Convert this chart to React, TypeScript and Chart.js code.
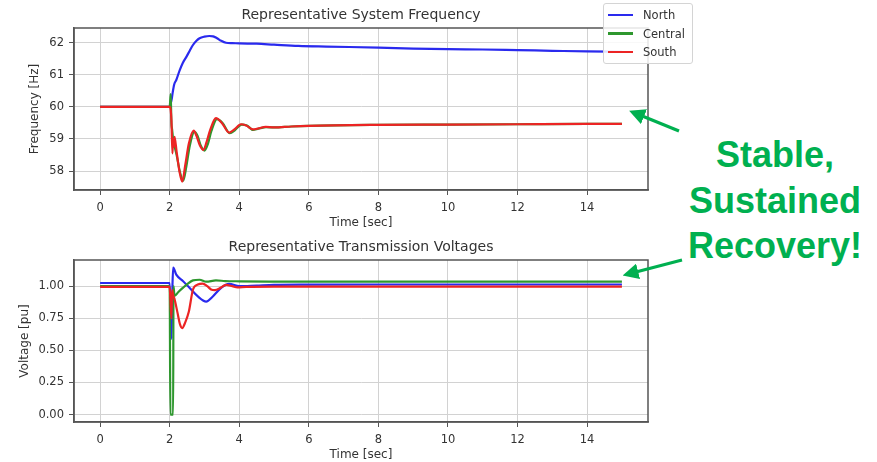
import React, { useEffect, useRef } from 'react';
import { Chart, registerables } from 'chart.js';

Chart.register(...registerables);

// ---------- tick labels ----------
const timeTicks = [0, 2, 4, 6, 8, 10, 12, 14];
const freqTicks = [58, 59, 60, 61, 62];
const voltTicks = [0, 0.25, 0.5, 0.75, 1.0];

// ---------- series names / colours ----------
const seriesNames = ['North', 'Central', 'South'];
const seriesColors = ['#2a2aee', '#2e972e', '#ec2424'];

// ---------- frequency [Hz] ----------
const northFreqT = [0, 2.0, 2.03, 2.06, 2.09, 2.13, 2.19, 2.29, 2.38, 2.48, 2.58, 2.67, 2.77, 2.86, 3.0, 3.14, 3.25, 3.35, 3.48, 3.62, 3.8, 4.0, 4.5, 5.0, 5.7, 6.5, 8.0, 9.0, 10.0, 11.0, 12.0, 13.0, 14.0, 15.0];
const northFreqV = [60, 60, 60.1, 60.25, 60.47, 60.7, 60.84, 61.15, 61.38, 61.56, 61.76, 61.93, 62.06, 62.14, 62.19, 62.21, 62.2, 62.15, 62.06, 62.0, 61.99, 61.98, 61.97, 61.94, 61.9, 61.88, 61.85, 61.82, 61.8, 61.79, 61.77, 61.75, 61.73, 61.72];

const centralFreqT = [0, 2.0, 2.03, 2.05, 2.07, 2.1, 2.2, 2.3, 2.39, 2.48, 2.58, 2.71, 2.8, 2.9, 3.0, 3.1, 3.2, 3.36, 3.52, 3.73, 3.88, 4.07, 4.22, 4.4, 4.55, 4.78, 5.0, 5.5, 6, 8, 10, 12, 14, 15];
const centralFreqV = [60, 60, 60.4, 59.5, 59.3, 59.0, 58.5, 57.95, 57.7, 58.15, 58.8, 59.22, 59.1, 58.78, 58.64, 58.85, 59.25, 59.62, 59.5, 59.18, 59.28, 59.45, 59.42, 59.28, 59.32, 59.37, 59.36, 59.39, 59.41, 59.44, 59.45, 59.46, 59.47, 59.47];

const southFreqT = [0, 2.0, 2.03, 2.05, 2.08, 2.1, 2.12, 2.14, 2.2, 2.28, 2.36, 2.45, 2.55, 2.69, 2.77, 2.87, 2.97, 3.06, 3.17, 3.33, 3.5, 3.71, 3.86, 4.05, 4.2, 4.4, 4.55, 4.76, 5.0, 5.5, 6, 8, 10, 12, 14, 15];
const southFreqV = [60, 60, 59.9, 59.6, 58.55, 59.0, 58.75, 59.07, 58.6, 58.0, 57.67, 58.2, 58.85, 59.26, 59.1, 58.8, 58.66, 58.9, 59.3, 59.65, 59.5, 59.2, 59.3, 59.46, 59.42, 59.3, 59.33, 59.38, 59.36, 59.39, 59.41, 59.44, 59.45, 59.46, 59.47, 59.47];

// ---------- voltage [pu] ----------
const northVoltT = [0, 2.0, 2.03, 2.05, 2.08, 2.1, 2.19, 2.38, 2.57, 2.81, 3.05, 3.24, 3.48, 3.71, 4.0, 4.5, 5, 6, 8, 10, 12, 14, 15];
const northVoltV = [1.025, 1.025, 0.8, 0.59, 1.0, 1.144, 1.09, 1.04, 0.987, 0.92, 0.88, 0.92, 0.987, 1.018, 1.0, 1.005, 1.01, 1.012, 1.013, 1.013, 1.013, 1.013, 1.013];

const centralVoltT = [0, 2.0, 2.02, 2.1, 2.11, 2.14, 2.25, 2.38, 2.5, 2.67, 2.86, 3.05, 3.33, 3.6, 4, 5, 6, 8, 10, 12, 14, 15];
const centralVoltV = [1.0, 1.0, 0.0, 0.0, 1.0, 0.925, 0.955, 0.987, 1.015, 1.045, 1.05, 1.035, 1.045, 1.04, 1.038, 1.036, 1.035, 1.035, 1.035, 1.035, 1.035, 1.035];

const southVoltT = [0, 2.0, 2.02, 2.05, 2.07, 2.1, 2.14, 2.22, 2.3, 2.36, 2.45, 2.55, 2.67, 2.81, 2.95, 3.08, 3.19, 3.3, 3.45, 3.62, 3.8, 3.95, 4.2, 5, 6, 8, 10, 12, 14, 15];
const southVoltV = [0.995, 0.995, 0.9, 0.75, 0.97, 0.93, 0.9, 0.8, 0.7, 0.674, 0.72, 0.8, 0.974, 1.013, 1.02, 1.0, 0.975, 0.97, 0.985, 1.01, 1.0, 0.99, 0.995, 0.997, 0.997, 0.997, 0.997, 0.997, 0.997, 0.997];

const FONT = "'DejaVu Sans', sans-serif";

const pts = (t: number[], v: number[]) => t.map((x, i) => ({ x, y: v[i] }));

const framePlugin = {
  id: 'frame',
  afterDatasetsDraw(chart: any) {
    const { ctx, chartArea } = chart;
    const { left, top, right, bottom } = chartArea;
    ctx.save();
    ctx.strokeStyle = '#555';
    ctx.lineWidth = 1.5;
    ctx.strokeRect(left, top, right - left, bottom - top);
    const t = chart.options.plugins.axTitle?.text;
    if (t) {
      ctx.fillStyle = '#333';
      ctx.font = `14px ${FONT}`;
      ctx.textAlign = 'center';
      ctx.textBaseline = 'middle';
      ctx.fillText(t, (left + right) / 2, 15);
    }
    ctx.restore();
  },
};

type PanelProps = {
  title: string;
  yTitle: string;
  yMin: number;
  yMax: number;
  yTicks: number[];
  yFmt: (v: number) => string;
  yTitlePad: number;
  series: { t: number[]; v: number[] }[];
};

function Panel(p: PanelProps) {
  const ref = useRef<HTMLCanvasElement | null>(null);
  useEffect(() => {
    if (!ref.current) return;
    const datasets = p.series.map((s, i) => ({
      label: seriesNames[i],
      data: pts(s.t, s.v),
      borderColor: seriesColors[i],
      backgroundColor: seriesColors[i],
      borderWidth: 2.2,
      pointRadius: 0,
      fill: false,
      cubicInterpolationMode: 'monotone' as const,
      order: 3 - i,
    }));
    const chart = new Chart(ref.current, {
      type: 'line',
      data: { datasets },
      plugins: [framePlugin],
      options: {
        responsive: false,
        animation: false,
        devicePixelRatio: 1,
        layout: { padding: { left: 0, right: 12, top: 28, bottom: 0 } },
        plugins: {
          legend: { display: false },
          tooltip: { enabled: false },
          title: { display: false },
          axTitle: { text: p.title },
        } as any,
        scales: {
          x: {
            type: 'linear',
            min: -0.75,
            max: 15.75,
            afterBuildTicks: (s: any) => {
              s.ticks = timeTicks.map((v) => ({ value: v }));
            },
            afterFit: (s: any) => {
              s.height = 40;
            },
            ticks: {
              color: '#333',
              font: { family: FONT, size: 11.5 },
              padding: 6,
              maxRotation: 0,
              autoSkip: false,
              callback: (v: any) => String(v),
            },
            grid: { color: '#d2d2d2', lineWidth: 1, tickColor: '#555', tickLength: 5 },
            border: { color: '#555', width: 1.5 },
            title: {
              display: true,
              text: 'Time [sec]',
              color: '#333',
              font: { family: FONT, size: 12 },
              padding: { top: 0, bottom: 0 },
            },
          },
          y: {
            type: 'linear',
            min: p.yMin,
            max: p.yMax,
            afterBuildTicks: (s: any) => {
              s.ticks = p.yTicks.map((v) => ({ value: v }));
            },
            afterFit: (s: any) => {
              s.width = 74;
            },
            ticks: {
              color: '#333',
              font: { family: FONT, size: 11.5 },
              padding: 5,
              autoSkip: false,
              callback: (v: any) => p.yFmt(Number(v)),
            },
            grid: { color: '#d2d2d2', lineWidth: 1, tickColor: '#555', tickLength: 5 },
            border: { color: '#555', width: 1.5 },
            title: {
              display: true,
              text: p.yTitle,
              color: '#333',
              font: { family: FONT, size: 12 },
              padding: { top: p.yTitlePad, bottom: 0 },
            },
          },
        },
      } as any,
    });
    return () => chart.destroy();
  }, []);
  return <canvas ref={ref} width={660} height={230} style={{ display: 'block', width: 660, height: 230 }} />;
}

function Legend() {
  return (
    <div
      style={{
        position: 'absolute',
        left: 603,
        top: 3,
        width: 88,
        height: 59,
        border: '1px solid #d4d4d4',
        borderRadius: 3,
        background: 'rgba(255,255,255,0.85)',
        fontFamily: FONT,
        fontSize: 11.5,
        color: '#333',
      }}
    >
      {seriesNames.map((n, i) => (
        <div key={n} style={{ position: 'absolute', left: 4, top: 2 + i * 18.5, height: 18, display: 'flex', alignItems: 'center' }}>
          <div style={{ width: 25, height: 2.2, background: seriesColors[i], marginRight: 10 }} />
          <span>{n}</span>
        </div>
      ))}
    </div>
  );
}

const annotationLines = ['Stable,', 'Sustained', 'Recovery!'];
const annotationColor = '#00b050';

function Annotation() {
  return (
    <>
      <div
        style={{
          position: 'absolute',
          left: 675,
          top: 132,
          width: 200,
          textAlign: 'center',
          fontFamily: "'Liberation Sans', Arial, sans-serif",
          fontWeight: 'bold',
          fontSize: 36,
          lineHeight: '45.5px',
          color: annotationColor,
        }}
      >
        {annotationLines.map((l) => (
          <div key={l}>{l}</div>
        ))}
      </div>
      <svg width={877} height={462} style={{ position: 'absolute', left: 0, top: 0, pointerEvents: 'none' }}>
        <defs>
          <marker id="ah" markerWidth="5" markerHeight="5" refX="1" refY="2.5" orient="auto" markerUnits="strokeWidth">
            <path d="M0,0 L5,2.5 L0,5 Z" fill={annotationColor} />
          </marker>
        </defs>
        <line x1={679} y1={131} x2={641} y2={115.5} stroke={annotationColor} strokeWidth={3.2} markerEnd="url(#ah)" />
        <line x1={682} y1={260} x2={635} y2={272.2} stroke={annotationColor} strokeWidth={3.2} markerEnd="url(#ah)" />
      </svg>
    </>
  );
}

export default function App() {
  return (
    <div style={{ position: 'absolute', left: 0, top: 0, width: 877, height: 462, background: '#fff', overflow: 'hidden' }}>
      <div style={{ position: 'absolute', left: 0, top: 0 }}>
        <Panel
          title="Representative System Frequency"
          yTitle="Frequency [Hz]"
          yMin={57.41}
          yMax={62.46}
          yTicks={freqTicks}
          yFmt={(v) => String(v)}
          yTitlePad={28}
          series={[
            { t: northFreqT, v: northFreqV },
            { t: centralFreqT, v: centralFreqV },
            { t: southFreqT, v: southFreqV },
          ]}
        />
      </div>
      <div style={{ position: 'absolute', left: 0, top: 232 }}>
        <Panel
          title="Representative Transmission Voltages"
          yTitle="Voltage [pu]"
          yMin={-0.058}
          yMax={1.204}
          yTicks={voltTicks}
          yFmt={(v) => v.toFixed(2)}
          yTitlePad={18}
          series={[
            { t: northVoltT, v: northVoltV },
            { t: centralVoltT, v: centralVoltV },
            { t: southVoltT, v: southVoltV },
          ]}
        />
      </div>
      <Legend />
      <Annotation />
    </div>
  );
}
